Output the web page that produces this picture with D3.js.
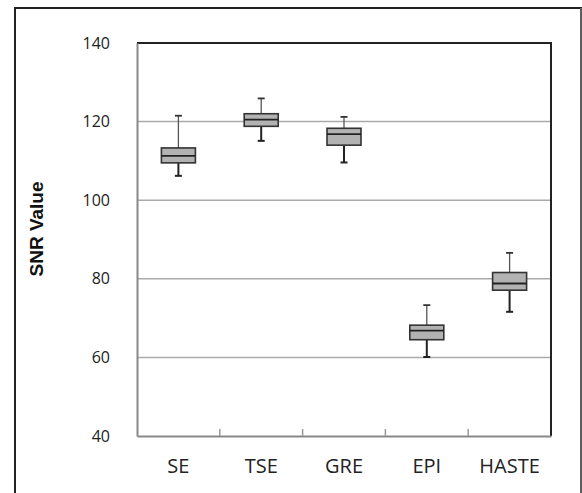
<!DOCTYPE html>
<html>
<head>
<meta charset="utf-8">
<script src="https://cdn.jsdelivr.net/npm/d3@7"></script>
<style>
  body { margin: 0; background: #fff; }
  svg { display: block; }
</style>
</head>
<body>
<div id="chart"></div>
<script>
// data
const categories = ['SE', 'TSE', 'GRE', 'EPI', 'HASTE'];
const whiskerLow = [106.2, 115.1, 109.6, 60.1, 71.6];
const q1 = [109.5, 118.8, 114.0, 64.5, 77.1];
const median = [111.3, 120.5, 116.8, 66.8, 78.8];
const q3 = [113.3, 122.0, 118.3, 68.2, 81.6];
const whiskerHigh = [121.5, 125.9, 121.2, 73.3, 86.6];
const yTicks = [40, 60, 80, 100, 120, 140];

const width = 582;
const height = 493;
const margin = { top: 43, right: 31, bottom: 57, left: 137 };

const svg = d3.select('#chart')
  .append('svg')
  .attr('width', width)
  .attr('height', height);

// outer frame
svg.append('rect')
  .attr('x', 15).attr('y', 8)
  .attr('width', 566).attr('height', 500)
  .attr('fill', 'none')
  .attr('stroke', '#222')
  .attr('stroke-width', 2);
svg.append('line')
  .attr('x1', 581).attr('x2', 581).attr('y1', 8).attr('y2', height)
  .attr('stroke', '#999').attr('stroke-width', 1);

const x = d3.scaleBand()
  .domain(categories)
  .range([margin.left, width - margin.right]);

const y = d3.scaleLinear()
  .domain([40, 140])
  .range([height - margin.bottom, margin.top]);

const x0 = margin.left;
const x1 = width - margin.right;
const yb = y(40);
const yt = y(140);

// gridlines
svg.append('g')
  .selectAll('line')
  .data(yTicks.filter(d => d > 40 && d < 140))
  .enter()
  .append('line')
  .attr('x1', x0).attr('x2', x1)
  .attr('y1', d => y(d)).attr('y2', d => y(d))
  .attr('stroke', '#aaa')
  .attr('stroke-width', 1.5);

// plot border: top and right dark
svg.append('path')
  .attr('d', `M${x0},${yt}H${x1}V${yb}`)
  .attr('fill', 'none')
  .attr('stroke', '#222')
  .attr('stroke-width', 2);

// y axis
const yAxis = svg.append('g')
  .attr('transform', `translate(${x0},0)`)
  .call(d3.axisLeft(y).tickValues(yTicks).tickSize(0).tickPadding(27));
yAxis.select('.domain').attr('stroke', '#888').attr('stroke-width', 2);
yAxis.selectAll('text')
  .attr('font-family', '"Open Sans", sans-serif')
  .attr('font-size', 16)
  .attr('fill', '#222');

// x axis
const xAxis = svg.append('g')
  .attr('transform', `translate(0,${yb})`)
  .call(d3.axisBottom(x).tickSize(0).tickPadding(23));
xAxis.select('.domain').attr('stroke', '#888').attr('stroke-width', 2);
xAxis.selectAll('text')
  .attr('font-family', '"Open Sans", sans-serif')
  .attr('font-size', 20)
  .attr('fill', '#222');

// category separator ticks, pointing up into the plot
svg.append('g')
  .selectAll('line')
  .data(categories.slice(1))
  .enter()
  .append('line')
  .attr('x1', d => x(d)).attr('x2', d => x(d))
  .attr('y1', yb).attr('y2', yb - 7)
  .attr('stroke', '#999')
  .attr('stroke-width', 1.5);

// y axis title
svg.append('text')
  .attr('transform', `translate(43,229) rotate(-90)`)
  .attr('text-anchor', 'middle')
  .attr('font-family', '"Liberation Sans", Arial, sans-serif')
  .attr('font-weight', 'bold')
  .attr('font-size', 19)
  .attr('fill', '#111')
  .text('SNR Value');

// boxes
const boxW = 34;
const capW = 7;
const boxes = svg.append('g')
  .selectAll('g')
  .data(categories.map((c, i) => ({
    c, lo: whiskerLow[i], q1: q1[i], med: median[i], q3: q3[i], hi: whiskerHigh[i]
  })))
  .enter()
  .append('g')
  .attr('transform', d => `translate(${x(d.c) + x.bandwidth() / 2},0)`);

// upper whisker (thin, grey)
boxes.append('line')
  .attr('x1', 0).attr('x2', 0)
  .attr('y1', d => y(d.hi)).attr('y2', d => y(d.q3))
  .attr('stroke', '#555').attr('stroke-width', 1.3);
boxes.append('line')
  .attr('x1', -capW / 2).attr('x2', capW / 2)
  .attr('y1', d => y(d.hi)).attr('y2', d => y(d.hi))
  .attr('stroke', '#333').attr('stroke-width', 1.8);

// lower whisker (thicker, dark)
boxes.append('line')
  .attr('x1', 0).attr('x2', 0)
  .attr('y1', d => y(d.q1)).attr('y2', d => y(d.lo))
  .attr('stroke', '#222').attr('stroke-width', 2);
boxes.append('line')
  .attr('x1', -capW / 2).attr('x2', capW / 2)
  .attr('y1', d => y(d.lo)).attr('y2', d => y(d.lo))
  .attr('stroke', '#222').attr('stroke-width', 2);

boxes.append('rect')
  .attr('x', -boxW / 2)
  .attr('width', boxW)
  .attr('y', d => y(d.q3))
  .attr('height', d => y(d.q1) - y(d.q3))
  .attr('fill', '#b2b2b2')
  .attr('stroke', '#333')
  .attr('stroke-width', 1.6);

boxes.append('line')
  .attr('x1', -boxW / 2).attr('x2', boxW / 2)
  .attr('y1', d => y(d.med)).attr('y2', d => y(d.med))
  .attr('stroke', '#222').attr('stroke-width', 1.8);
</script>
</body>
</html>
